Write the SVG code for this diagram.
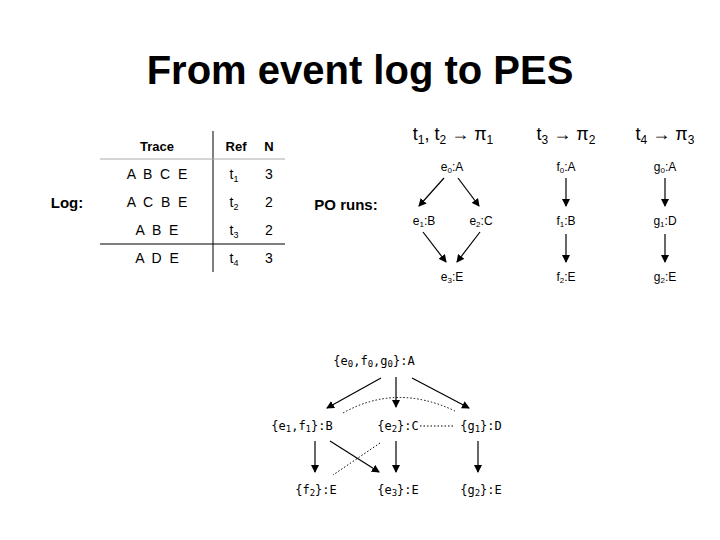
<svg xmlns="http://www.w3.org/2000/svg" width="720" height="540" viewBox="0 0 720 540">
<style>
text{font-family:"Liberation Sans",Arial,sans-serif;fill:#000}
.s{font-size:12px;text-anchor:middle}
.t{font-size:14px;text-anchor:middle}
.a{stroke:#000;stroke-width:1.2;fill:none;marker-end:url(#ah)}
.d{stroke:#000;stroke-width:1;fill:none;stroke-dasharray:1.5 2}
.m{font-family:"DejaVu Sans Mono",monospace;font-size:12px;text-anchor:middle}
</style>
<defs><marker id="ah" markerWidth="8" markerHeight="8" refX="7" refY="4" orient="auto" markerUnits="userSpaceOnUse"><path d="M0,0L8,4L0,8z"/></marker></defs>
<rect width="720" height="540" fill="#fff"/>
<text x="360" y="84" style="font-size:40px;font-weight:bold;text-anchor:middle">From event log to PES</text>
<g id="table">
<line x1="213" y1="131" x2="213" y2="272" stroke="#000"/>
<line x1="100" y1="159" x2="285" y2="159" stroke="#aaa"/>
<line x1="100" y1="244" x2="285" y2="244" stroke="#000"/>
<text x="157" y="151" style="font-size:13px;font-weight:bold;text-anchor:middle">Trace</text>
<text x="236" y="151" style="font-size:13px;font-weight:bold;text-anchor:middle">Ref</text>
<text x="269" y="151" style="font-size:13px;font-weight:bold;text-anchor:middle">N</text>
<text x="157" y="179" class="t" xml:space="preserve">A  B  C  E</text>
<text x="157" y="207" class="t" xml:space="preserve">A  C  B  E</text>
<text x="157" y="235" class="t" xml:space="preserve">A  B  E</text>
<text x="157" y="263" class="t" xml:space="preserve">A  D  E</text>
<text x="234" y="179" class="t">t<tspan font-size="9" dy="3">1</tspan></text>
<text x="234" y="207" class="t">t<tspan font-size="9" dy="3">2</tspan></text>
<text x="234" y="235" class="t">t<tspan font-size="9" dy="3">3</tspan></text>
<text x="234" y="263" class="t">t<tspan font-size="9" dy="3">4</tspan></text>
<text x="269" y="179" class="t">3</text><text x="269" y="207" class="t">2</text><text x="269" y="235" class="t">2</text><text x="269" y="263" class="t">3</text>
</g>
<text x="67" y="208" style="font-size:15px;font-weight:bold;text-anchor:middle">Log:</text>
<text x="346" y="210" style="font-size:15px;font-weight:bold;text-anchor:middle">PO runs:</text>
<g id="headers">
<text x="453" y="140" style="font-size:18px" text-anchor="middle">t<tspan font-size="12" dy="4">1</tspan><tspan dy="-4">, t</tspan><tspan font-size="12" dy="4">2</tspan><tspan dy="-4"> → π</tspan><tspan font-size="12" dy="4">1</tspan></text>
<text x="566" y="140" style="font-size:18px" text-anchor="middle">t<tspan font-size="12" dy="4">3</tspan><tspan dy="-4"> → π</tspan><tspan font-size="12" dy="4">2</tspan></text>
<text x="665" y="140" style="font-size:18px" text-anchor="middle">t<tspan font-size="12" dy="4">4</tspan><tspan dy="-4"> → π</tspan><tspan font-size="12" dy="4">3</tspan></text>
</g>
<g id="pi1">
<text x="452" y="171" class="s">e<tspan font-size="8" dy="2">0</tspan><tspan dy="-2">:A</tspan></text>
<text x="424" y="225" class="s">e<tspan font-size="8" dy="2">1</tspan><tspan dy="-2">:B</tspan></text>
<text x="481" y="225" class="s">e<tspan font-size="8" dy="2">2</tspan><tspan dy="-2">:C</tspan></text>
<text x="452" y="281" class="s">e<tspan font-size="8" dy="2">3</tspan><tspan dy="-2">:E</tspan></text>
</g>
<g id="pi2">
<text x="566" y="171" class="s">f<tspan font-size="8" dy="2">0</tspan><tspan dy="-2">:A</tspan></text>
<text x="566" y="225" class="s">f<tspan font-size="8" dy="2">1</tspan><tspan dy="-2">:B</tspan></text>
<text x="566" y="281" class="s">f<tspan font-size="8" dy="2">2</tspan><tspan dy="-2">:E</tspan></text>
</g>
<g id="pi3">
<text x="665" y="171" class="s">g<tspan font-size="8" dy="2">0</tspan><tspan dy="-2">:A</tspan></text>
<text x="665" y="225" class="s">g<tspan font-size="8" dy="2">1</tspan><tspan dy="-2">:D</tspan></text>
<text x="665" y="281" class="s">g<tspan font-size="8" dy="2">2</tspan><tspan dy="-2">:E</tspan></text>
</g>
<g id="pes">
<text x="374" y="365" class="m">{e<tspan font-size="9" dy="2">0</tspan><tspan dy="-2">,f</tspan><tspan font-size="9" dy="2">0</tspan><tspan dy="-2">,g</tspan><tspan font-size="9" dy="2">0</tspan><tspan dy="-2">}:A</tspan></text>
<text x="302" y="430" class="m">{e<tspan font-size="9" dy="2">1</tspan><tspan dy="-2">,f</tspan><tspan font-size="9" dy="2">1</tspan><tspan dy="-2">}:B</tspan></text>
<text x="398" y="430" class="m">{e<tspan font-size="9" dy="2">2</tspan><tspan dy="-2">}:C</tspan></text>
<text x="481" y="430" class="m">{g<tspan font-size="9" dy="2">1</tspan><tspan dy="-2">}:D</tspan></text>
<text x="316" y="494" class="m">{f<tspan font-size="9" dy="2">2</tspan><tspan dy="-2">}:E</tspan></text>
<text x="398" y="494" class="m">{e<tspan font-size="9" dy="2">3</tspan><tspan dy="-2">}:E</tspan></text>
<text x="481" y="494" class="m">{g<tspan font-size="9" dy="2">2</tspan><tspan dy="-2">}:E</tspan></text>
</g>
<g id="connectors">
<line x1="444" y1="178" x2="419" y2="206" class="a"/>
<line x1="458" y1="178" x2="479" y2="206" class="a"/>
<line x1="423" y1="232" x2="446" y2="262" class="a"/>
<line x1="480" y1="232" x2="457" y2="262" class="a"/>
<line x1="566" y1="178" x2="566" y2="206" class="a"/>
<line x1="566" y1="234" x2="566" y2="262" class="a"/>
<line x1="665" y1="178" x2="665" y2="206" class="a"/>
<line x1="665" y1="234" x2="665" y2="262" class="a"/>
<line x1="381" y1="378" x2="327" y2="408" class="a"/>
<line x1="396" y1="377" x2="396" y2="407" class="a"/>
<line x1="412" y1="378" x2="469" y2="408" class="a"/>
<line x1="315" y1="441" x2="315" y2="472" class="a"/>
<line x1="330" y1="441" x2="379" y2="472" class="a"/>
<line x1="396" y1="441" x2="396" y2="472" class="a"/>
<line x1="478" y1="441" x2="478" y2="472" class="a"/>
<path d="M343,413 Q396,383 455,411" class="d"/>
<line x1="420" y1="426" x2="455" y2="426" class="d"/>
<line x1="380" y1="443" x2="333" y2="475" class="d"/>
</g>
</svg>
